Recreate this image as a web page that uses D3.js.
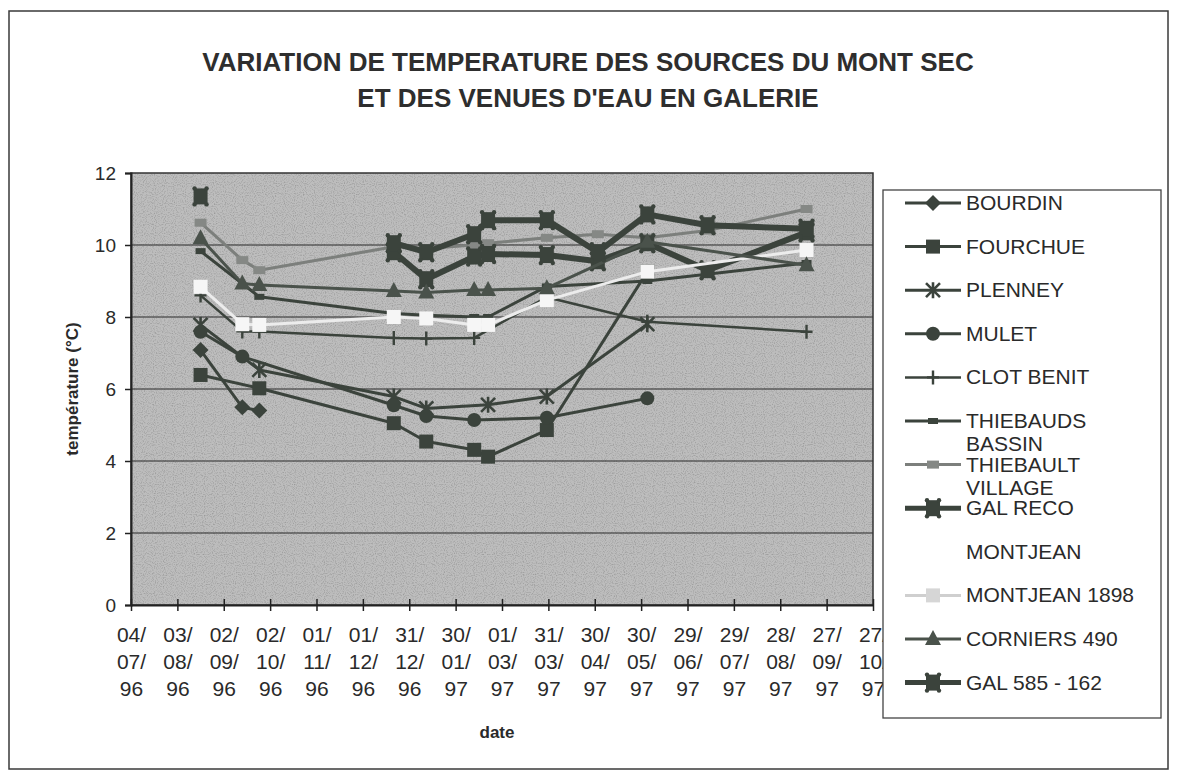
<!DOCTYPE html>
<html>
<head>
<meta charset="utf-8">
<script src="https://cdn.jsdelivr.net/npm/d3@7/dist/d3.min.js"></script>
<style>
  html, body { margin: 0; padding: 0; background: #ffffff; }
  svg { display: block; font-family: "Liberation Sans", Arial, sans-serif; }
</style>
</head>
<body>
<svg id="chart" width="1178" height="778"></svg>
<script>
// ---- data ---------------------------------------------------------------
const tickLabels = ["04/07/96","03/08/96","02/09/96","02/10/96","01/11/96","01/12/96",
  "31/12/96","30/01/97","01/03/97","31/03/97","30/04/97","30/05/97","29/06/97",
  "29/07/97","28/08/97","27/09/97","27/10/97"];
const yTicks = [0, 2, 4, 6, 8, 10, 12];

// measurement campaigns
const sampleDates = ["18/08/96","14/09/96","25/09/96","21/12/96","11/01/97","11/02/97",
  "20/02/97","30/03/97","02/05/97","03/06/97","12/07/97","14/09/97"];

const seriesNames = ["BOURDIN","FOURCHUE","PLENNEY","MULET","CLOT BENIT","THIEBAUDS BASSIN",
  "THIEBAULT VILLAGE","GAL RECO","MONTJEAN","MONTJEAN 1898","CORNIERS 490","GAL 585 - 162"];

const bourdin      = [7.08, 5.49, 5.40, null, null, null, null, null, null, null, null, null];
const fourchue     = [6.39, null, 6.02, 5.05, 4.54, 4.31, 4.12, 4.86, null, 9.26, null, null];
const plenney      = [7.78, null, 6.53, 5.79, 5.46, null, 5.56, 5.79, null, 7.80, null, null];
const mulet        = [7.59, 6.90, null, 5.55, 5.25, 5.14, null, 5.20, null, 5.74, null, null];
const clotBenit    = [8.60, 7.60, 7.60, 7.42, 7.40, 7.42, null, 8.55, null, 7.87, null, 7.59];
const thiebauds    = [9.83, null, 8.56, 8.10, 8.05, 8.00, 8.00, 8.85, null, 9.00, null, 9.50];
const thiebault    = [10.62, 9.58, 9.30, 9.95, 9.90, 10.00, 10.05, 10.20, 10.30, 10.20, 10.40, 11.00];
const galReco      = [null, null, null, 9.80, 9.05, 9.68, 9.75, 9.72, 9.55, 10.05, 9.30, 10.35];
const montjean     = [null, null, null, null, null, null, null, null, null, null, null, null];
const montjean1898 = [8.84, 7.80, 7.78, 8.00, 7.96, 7.78, 7.78, 8.47, null, 9.26, null, 9.86];
const corniers     = [10.19, 8.93, 8.89, 8.72, 8.68, 8.75, 8.75, 8.80, null, 10.09, null, 9.44];
const gal585       = [11.35, null, null, 10.05, 9.80, 10.30, 10.69, 10.69, 9.80, 10.85, 10.55, 10.45];

// a reading followed by a pause in the monitoring: the line restarts at this index
const lineRestarts = { "GAL 585 - 162": 3 };

const seriesValues = [bourdin, fourchue, plenney, mulet, clotBenit, thiebauds,
  thiebault, galReco, montjean, montjean1898, corniers, gal585];

// ---- appearance ---------------------------------------------------------
const DARK = "#3b433c";
const styles = {
  "BOURDIN":          { stroke: DARK, width: 3, marker: "diamond", fill: DARK },
  "FOURCHUE":         { stroke: DARK, width: 3, marker: "square", fill: DARK },
  "PLENNEY":          { stroke: DARK, width: 3, marker: "asterisk", fill: DARK },
  "MULET":            { stroke: DARK, width: 3, marker: "circle", fill: DARK },
  "CLOT BENIT":       { stroke: DARK, width: 2.5, marker: "plus", fill: DARK },
  "THIEBAUDS BASSIN": { stroke: DARK, width: 3, marker: "dash", fill: DARK },
  "THIEBAULT VILLAGE":{ stroke: "#7c7f7c", width: 3, marker: "bar", fill: "#858885" },
  "GAL RECO":         { stroke: DARK, width: 6, marker: "bigsquare", fill: DARK },
  "MONTJEAN":         { stroke: "#ffffff", width: 2, marker: null, fill: null },
  "MONTJEAN 1898":    { stroke: "#ececec", width: 3, marker: "square", fill: "#f6f6f6" },
  "CORNIERS 490":     { stroke: "#4a524b", width: 3, marker: "triangle", fill: "#4a524b" },
  "GAL 585 - 162":    { stroke: DARK, width: 6, marker: "bigsquare", fill: DARK }
};

// ---- layout -------------------------------------------------------------
const svg = d3.select("#chart");
const plot = { left: 131, right: 873, top: 173, bottom: 605 };

const parse = d3.utcParse("%d/%m/%y");
const tickDates = tickLabels.map(parse);
const x = d3.scaleUtc()
  .domain([tickDates[0], tickDates[tickDates.length - 1]])
  .range([plot.left, plot.right]);
const y = d3.scaleLinear().domain([0, 12]).range([plot.bottom, plot.top]);

// outer frame
svg.append("rect").attr("x", 9).attr("y", 11).attr("width", 1159).attr("height", 758)
  .attr("fill", "#fff").attr("stroke", "#3a3a3a").attr("stroke-width", 1.5);

// title
const title = svg.append("g").attr("font-weight", "bold").attr("fill", "#2e2e2e")
  .attr("text-anchor", "middle").attr("font-size", 26);
title.append("text").attr("x", 588).attr("y", 71)
  .text("VARIATION DE TEMPERATURE DES SOURCES DU MONT SEC");
title.append("text").attr("x", 588).attr("y", 107)
  .text("ET DES VENUES D'EAU EN GALERIE");

// plot background with a fine stipple
const defs = svg.append("defs");
const f = defs.append("filter").attr("id", "grain").attr("x", 0).attr("y", 0)
  .attr("width", 1).attr("height", 1);
f.append("feTurbulence").attr("type", "fractalNoise").attr("baseFrequency", 0.9)
  .attr("numOctaves", 1).attr("seed", 3).attr("result", "n");
f.append("feColorMatrix").attr("in", "n").attr("type", "matrix")
  .attr("values", "0 0 0 0 0  0 0 0 0 0  0 0 0 0 0  0 0 0 -1.4 0.75");
defs.append("clipPath").attr("id", "plotClip").append("rect")
  .attr("x", plot.left).attr("y", plot.top)
  .attr("width", plot.right - plot.left).attr("height", plot.bottom - plot.top);

svg.append("rect").attr("x", plot.left).attr("y", plot.top)
  .attr("width", plot.right - plot.left).attr("height", plot.bottom - plot.top)
  .attr("fill", "#bdbdbd");
svg.append("rect").attr("x", plot.left).attr("y", plot.top)
  .attr("width", plot.right - plot.left).attr("height", plot.bottom - plot.top)
  .attr("fill", "#000").attr("filter", "url(#grain)").attr("opacity", 0.35);

// horizontal gridlines
svg.append("g").selectAll("line").data(yTicks.filter(v => v > 0 && v < 12)).join("line")
  .attr("x1", plot.left).attr("x2", plot.right)
  .attr("y1", d => y(d)).attr("y2", d => y(d))
  .attr("stroke", "#2b2b2b").attr("stroke-width", 1.2);

// plot border
svg.append("rect").attr("x", plot.left).attr("y", plot.top)
  .attr("width", plot.right - plot.left).attr("height", plot.bottom - plot.top)
  .attr("fill", "none").attr("stroke", "#333").attr("stroke-width", 1.5);

// axes
const yAxis = svg.append("g").attr("transform", `translate(${plot.left},0)`)
  .call(d3.axisLeft(y).tickValues(yTicks).tickSize(6).tickPadding(9).tickFormat(d3.format("d")));
yAxis.select(".domain").attr("stroke", "#222").attr("stroke-width", 2);
yAxis.selectAll(".tick line").attr("stroke", "#222").attr("stroke-width", 1.5);
yAxis.selectAll("text").attr("font-size", 19).attr("fill", "#2a2a2a")
  .attr("font-family", "Liberation Sans, Arial, sans-serif");

const xAxis = svg.append("g").attr("transform", `translate(0,${plot.bottom})`)
  .call(d3.axisBottom(x).tickValues(tickDates).tickSizeInner(6).tickSizeOuter(0).tickFormat(() => ""));
xAxis.select(".domain").attr("stroke", "#222").attr("stroke-width", 2);
xAxis.selectAll(".tick line").attr("y1", -6).attr("y2", 6).attr("stroke", "#222").attr("stroke-width", 1.5);
xAxis.selectAll(".tick text").each(function(d, i) {
  const parts = tickLabels[i].split("/");
  const t = d3.select(this).attr("y", 0).attr("dy", null)
    .attr("font-size", 21).attr("fill", "#2a2a2a")
    .attr("font-family", "Liberation Sans, Arial, sans-serif");
  [parts[0] + "/", parts[1] + "/", parts[2]].forEach((p, k) => {
    t.append("tspan").attr("x", 0).attr("y", 37 + k * 27).text(p);
  });
});

// axis titles
svg.append("text").attr("transform", "translate(78,389) rotate(-90)")
  .attr("text-anchor", "middle").attr("font-weight", "bold").attr("font-size", 17)
  .attr("fill", "#2a2a2a").text("température (°C)");
svg.append("text").attr("x", 497).attr("y", 738).attr("text-anchor", "middle")
  .attr("font-weight", "bold").attr("font-size", 17).attr("fill", "#2a2a2a").text("date");

// ---- markers -------------------------------------------------------------
function drawMarker(g, type, cx, cy, st) {
  const c = st.fill;
  switch (type) {
    case "diamond":
      g.append("path").attr("d", `M${cx},${cy - 8}L${cx + 8},${cy}L${cx},${cy + 8}L${cx - 8},${cy}Z`).attr("fill", c);
      break;
    case "square":
      g.append("rect").attr("x", cx - 7).attr("y", cy - 7).attr("width", 14).attr("height", 14).attr("fill", c);
      break;
    case "bigsquare":
      g.append("rect").attr("x", cx - 7).attr("y", cy - 8).attr("width", 14).attr("height", 16).attr("fill", c);
      [[-6, -8], [6, -8], [-6, 8], [6, 8]].forEach(([dx, dy]) =>
        g.append("circle").attr("cx", cx + dx).attr("cy", cy + dy).attr("r", 2.2).attr("fill", c));
      break;
    case "circle":
      g.append("circle").attr("cx", cx).attr("cy", cy).attr("r", 7).attr("fill", c);
      break;
    case "triangle":
      g.append("path").attr("d", `M${cx},${cy - 9}L${cx + 8},${cy + 6}L${cx - 8},${cy + 6}Z`).attr("fill", c);
      break;
    case "asterisk":
      g.append("path").attr("d",
        `M${cx - 7},${cy - 7}L${cx + 7},${cy + 7}M${cx + 7},${cy - 7}L${cx - 7},${cy + 7}M${cx},${cy - 8}L${cx},${cy + 8}`)
        .attr("stroke", c).attr("stroke-width", 2.6);
      break;
    case "plus":
      g.append("path").attr("d", `M${cx},${cy - 7}L${cx},${cy + 7}M${cx - 6},${cy}L${cx + 6},${cy}`)
        .attr("stroke", c).attr("stroke-width", 2.4);
      break;
    case "dash":
      g.append("rect").attr("x", cx - 5).attr("y", cy - 3).attr("width", 10).attr("height", 6).attr("fill", c);
      break;
    case "bar":
      g.append("rect").attr("x", cx - 6).attr("y", cy - 4).attr("width", 12).attr("height", 8).attr("fill", c);
      break;
  }
}

// ---- series --------------------------------------------------------------
const sampleDateValues = sampleDates.map(parse);
const line = d3.line().x(d => x(d.date)).y(d => y(d.value));
const seriesLayer = svg.append("g").attr("clip-path", "url(#plotClip)");

seriesNames.forEach((name, si) => {
  const st = styles[name];
  const pts = seriesValues[si]
    .map((v, i) => ({ date: sampleDateValues[i], value: v, i }))
    .filter(d => d.value !== null);
  if (!pts.length) return;
  const restart = lineRestarts[name];
  const runs = restart === undefined ? [pts]
    : [pts.filter(d => d.i < restart), pts.filter(d => d.i >= restart)];
  const g = seriesLayer.append("g");
  runs.forEach(run => {
    if (run.length > 1) {
      g.append("path").attr("d", line(run)).attr("fill", "none")
        .attr("stroke", st.stroke).attr("stroke-width", st.width)
        .attr("stroke-linejoin", "round");
    }
  });
  if (st.marker) pts.forEach(d => drawMarker(g, st.marker, x(d.date), y(d.value), st));
});

// ---- legend ----------------------------------------------------------------
const legend = svg.append("g");
legend.append("rect").attr("x", 883).attr("y", 190).attr("width", 278).attr("height", 528)
  .attr("fill", "#fff").attr("stroke", "#444").attr("stroke-width", 1.3);

seriesNames.forEach((name, i) => {
  const st = styles[name];
  const ly = 203 + i * 43.6;
  const g = legend.append("g");
  if (st.marker) {
    g.append("line").attr("x1", 905).attr("x2", 961).attr("y1", ly).attr("y2", ly)
      .attr("stroke", name === "MONTJEAN 1898" ? "#cfcfcf" : st.stroke)
      .attr("stroke-width", Math.min(st.width, 5));
    drawMarker(g, st.marker, 933, ly, name === "MONTJEAN 1898" ? { fill: "#d6d6d6" } : st);
  }
  const words = name === "THIEBAUDS BASSIN" ? ["THIEBAUDS", "BASSIN"]
    : name === "THIEBAULT VILLAGE" ? ["THIEBAULT", "VILLAGE"] : [name];
  words.forEach((w, k) => {
    g.append("text").attr("x", 966).attr("y", ly + 7 + k * 23)
      .attr("font-size", 21).attr("fill", "#2a2a2a").text(w);
  });
});
</script>
</body>
</html>
